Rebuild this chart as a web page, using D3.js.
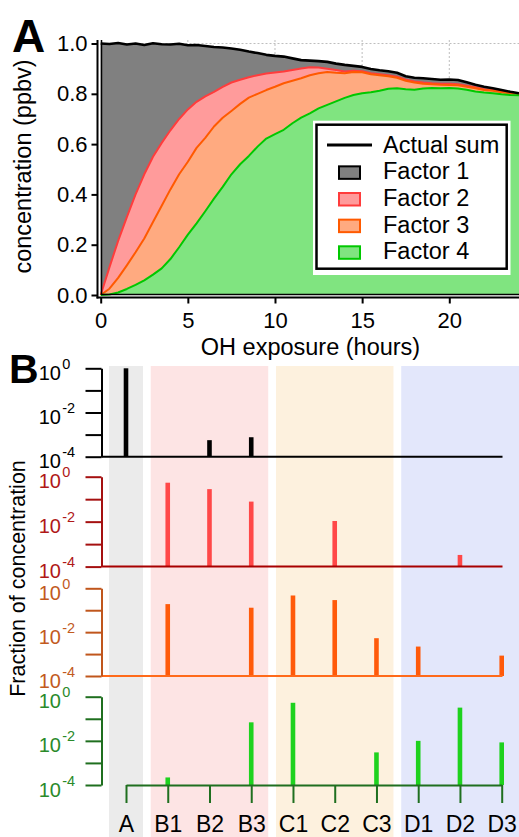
<!DOCTYPE html>
<html>
<head>
<meta charset="utf-8">
<script src="https://cdn.jsdelivr.net/npm/d3@7"></script>
<style>
  html, body { margin: 0; padding: 0; background: #fff; }
  svg { display: block; font-family: "Liberation Sans", Arial, Helvetica, sans-serif; }
</style>
</head>
<body>
<svg id="chart" width="519" height="837"></svg>
<script>
// ---------- Panel A: factor concentrations vs OH exposure ----------
const hours = [0,0.5,1,1.5,2,2.5,3,3.5,4,4.5,5,5.5,6,6.5,7,7.5,8,8.5,9,9.5,10,10.5,11,11.5,12,12.5,13,13.5,14,14.5,15,15.5,16,16.5,17,17.5,18,18.5,19,19.5,20,20.5,21,21.5,22,22.5,23,23.5,24];

const factor1 = [1.000,0.888,0.787,0.686,0.600,0.514,0.451,0.392,0.341,0.299,
                 0.255,0.226,0.200,0.178,0.156,0.135,0.119,0.102,0.088,0.074,
                 0.066,0.059,0.046,0.033,0.026,0.025,0.027,0.025,0.026,0.019,
                 0.017,0.017,0.016,0.016,0.016,0.014,0.015,0.017,0.017,0.016,
                 0.017,0.017,0.014,0.010,0.010,0.007,0.006,0.003,0.000];
const factor2 = [0,0.085,0.147,0.192,0.230,0.255,0.260,0.250,0.235,0.220,
                 0.208,0.183,0.165,0.138,0.123,0.113,0.096,0.081,0.074,0.066,
                 0.057,0.047,0.043,0.039,0.032,0.023,0.013,0.011,0.007,0.005,
                 0.004,0.004,0.004,0.004,0.004,0.004,0.004,0.005,0.004,0.004,
                 0.005,0.004,0.004,0.004,0.003,0.003,0.003,0.003,0.002];
const factor3 = [0,0.023,0.058,0.094,0.130,0.167,0.209,0.249,0.277,0.290,
                 0.290,0.300,0.292,0.287,0.275,0.252,0.240,0.232,0.210,0.193,
                 0.188,0.185,0.169,0.157,0.152,0.140,0.131,0.114,0.098,0.092,
                 0.084,0.072,0.062,0.050,0.042,0.034,0.029,0.019,0.015,0.014,
                 0.012,0.013,0.012,0.013,0.010,0.010,0.008,0.007,0.006];
const factor4 = [0,0.002,0.010,0.024,0.040,0.058,0.081,0.106,0.143,0.190,
                 0.240,0.285,0.333,0.383,0.430,0.480,0.520,0.553,0.590,0.622,
                 0.640,0.657,0.683,0.705,0.722,0.742,0.756,0.770,0.784,0.795,
                 0.802,0.806,0.812,0.820,0.822,0.818,0.816,0.821,0.823,0.822,
                 0.823,0.821,0.816,0.809,0.805,0.802,0.798,0.795,0.794];
const actualSum = [1.000,0.998,1.002,0.996,1.000,0.994,1.001,0.997,0.996,0.999,
                   0.993,0.994,0.990,0.986,0.984,0.980,0.975,0.968,0.962,0.955,
                   0.951,0.948,0.941,0.934,0.932,0.930,0.927,0.920,0.915,0.911,
                   0.907,0.899,0.894,0.890,0.884,0.870,0.864,0.862,0.859,0.856,
                   0.857,0.855,0.846,0.836,0.828,0.822,0.815,0.808,0.802];

const concTicks = [0, 0.2, 0.4, 0.6, 0.8, 1.0];
const hourTicks = [0, 5, 10, 15, 20];
const legendLabels = ["Actual sum", "Factor 1", "Factor 2", "Factor 3", "Factor 4"];

// ---------- Panel B: fraction of each factor per source ----------
const sources = ["A","B1","B2","B3","C1","C2","C3","D1","D2","D3"];
const sourceGroups = ["A","B","C","D"];
const fraction1 = [1.0, 0, 5.6e-4, 7.6e-4, 0, 0, 0, 0, 0, 0];
const fraction2 = [0, 0.54, 0.28, 0.078, 0, 0.0107, 0, 0, 3.3e-4, 0];
const fraction3 = [0, 0.19, 0, 0.13, 0.47, 0.29, 0.0053, 0.0022, 0, 8.5e-4];
const fraction4 = [0, 2.2e-4, 0, 0.069, 0.53, 0, 0.003, 0.01, 0.32, 0.0085];
const decadeTicks = [1, 0.1, 0.01, 0.001, 0.0001];
const decadeExponents = ["0", "-1", "-2", "-3", "-4"];

const FONT = '"Liberation Sans", Arial, Helvetica, sans-serif';
const svg = d3.select("#chart");

// ======================= Panel A =======================
const xA = d3.scaleLinear().domain([0, 24]).range([100.7, 519]);
const yA = d3.scaleLinear().domain([0, 1.014]).range([295, 40]);

const gA = svg.append("g");

// dotted grid
gA.append("g").selectAll("line.v").data(hourTicks.filter(d => d > 0)).join("line")
  .attr("x1", d => xA(d)).attr("x2", d => xA(d))
  .attr("y1", yA.range()[1]).attr("y2", yA(0))
  .attr("stroke", "#bdbdbd").attr("stroke-width", 1).attr("stroke-dasharray", "2,2");
gA.append("line")
  .attr("x1", 101.5).attr("x2", 519).attr("y1", yA(1)).attr("y2", yA(1))
  .attr("stroke", "#bdbdbd").attr("stroke-width", 1).attr("stroke-dasharray", "2,2");

const rows = hours.map((h, i) => ({ h, f1: factor1[i], f2: factor2[i], f3: factor3[i], f4: factor4[i] }));
const stacked = d3.stack().keys(["f4", "f3", "f2", "f1"])(rows);
const byKey = {};
stacked.forEach(s => byKey[s.key] = s);

const area = d3.area()
  .x(d => xA(d.data.h))
  .y0(d => yA(d[0]))
  .y1(d => yA(d[1]));
const topLine = d3.line()
  .x(d => xA(d.data.h))
  .y(d => yA(d[1]));

const factorStyle = {
  f1: { fill: "#808080", line: null },
  f2: { fill: "#ff9b9b", line: "#ff3c3c" },
  f3: { fill: "#ffaa80", line: "#ff5a00" },
  f4: { fill: "#80e480", line: "#00c800" }
};

["f1", "f2", "f3", "f4"].forEach(k => {
  gA.append("path").datum(byKey[k]).attr("d", area).attr("fill", factorStyle[k].fill);
  if (factorStyle[k].line) {
    gA.append("path").datum(byKey[k]).attr("d", topLine)
      .attr("fill", "none").attr("stroke", factorStyle[k].line)
      .attr("stroke-width", 2).attr("stroke-linejoin", "round");
  }
});

// measured total
gA.append("path").datum(actualSum)
  .attr("d", d3.line().x((d, i) => xA(hours[i])).y(d => yA(d)))
  .attr("fill", "none").attr("stroke", "#000").attr("stroke-width", 2.6)
  .attr("stroke-linejoin", "round");

// plot frame (left and bottom)
gA.append("line").attr("x1", 101.5).attr("x2", 101.5).attr("y1", 40).attr("y2", 295)
  .attr("stroke", "#000").attr("stroke-width", 1.5);
gA.append("line").attr("x1", 101).attr("x2", 519).attr("y1", 294.5).attr("y2", 294.5)
  .attr("stroke", "#000").attr("stroke-width", 1.5);

// axes
const yAxisA = gA.append("g").attr("transform", "translate(97.5,0)")
  .call(d3.axisLeft(yA).tickValues(concTicks).tickFormat(d3.format(".1f"))
        .tickSize(6).tickSizeOuter(0).tickPadding(4));
yAxisA.select(".domain").remove();
yAxisA.append("line").attr("x1", 0).attr("x2", 0).attr("y1", 40).attr("y2", 298.5)
  .attr("stroke", "#000").attr("stroke-width", 2);

const xAxisA = gA.append("g").attr("transform", "translate(0,297.5)")
  .call(d3.axisBottom(xA).tickValues(hourTicks).tickFormat(d3.format("d"))
        .tickSize(6).tickSizeOuter(0).tickPadding(9));
xAxisA.select(".domain").remove();
xAxisA.append("line").attr("x1", 96.5).attr("x2", 519).attr("y1", 0).attr("y2", 0)
  .attr("stroke", "#000").attr("stroke-width", 2);

[yAxisA, xAxisA].forEach(ax => {
  ax.attr("font-family", FONT).attr("font-size", 22);
  ax.selectAll(".tick line").attr("stroke", "#000").attr("stroke-width", 2);
  ax.selectAll(".tick text").attr("fill", "#000");
});

gA.append("text").attr("x", 310.5).attr("y", 355)
  .attr("text-anchor", "middle").attr("font-size", 23.5).text("OH exposure (hours)");
gA.append("text").attr("transform", "translate(31,166.5) rotate(-90)")
  .attr("text-anchor", "middle").attr("font-size", 23.5).text("concentration (ppbv)");

// legend
const leg = gA.append("g");
leg.append("rect").attr("x", 313).attr("y", 120.7).attr("width", 197.5).attr("height", 154.3).attr("fill", "#fff");
leg.append("rect").attr("x", 316.5).attr("y", 124.7).attr("width", 190.2).attr("height", 144)
  .attr("fill", "none").attr("stroke", "#000").attr("stroke-width", 2.5);
const legRow = i => 152.7 + i * 26.65;
leg.append("line").attr("x1", 327).attr("x2", 372).attr("y1", legRow(0) - 7.7).attr("y2", legRow(0) - 7.7)
  .attr("stroke", "#000").attr("stroke-width", 3);
["f1", "f2", "f3", "f4"].forEach((k, i) => {
  leg.append("rect").attr("x", 339).attr("y", legRow(i + 1) - 13)
    .attr("width", 21).attr("height", 12.5)
    .attr("fill", factorStyle[k].fill)
    .attr("stroke", factorStyle[k].line || "#000").attr("stroke-width", 2);
});
leg.selectAll("text").data(legendLabels).join("text")
  .attr("x", 383).attr("y", (d, i) => legRow(i))
  .attr("font-size", 23.5).attr("fill", "#000").text(d => d);

svg.append("text").attr("x", 12).attr("y", 52).attr("font-size", 46).attr("font-weight", "bold").text("A");

// ======================= Panel B =======================
const xB = d3.scalePoint().domain(sources).range([126, 501.7]);
const gB = svg.append("g");

const bandColors = { A: "#ebebeb", B: "#fde4e4", C: "#fdf1de", D: "#e3e7fb" };
const bandHalf = 17;
sourceGroups.forEach(g => {
  const members = sources.filter(s => s[0] === g);
  const x0 = xB(members[0]) - bandHalf;
  const x1 = Math.min(519, xB(members[members.length - 1]) + bandHalf + (g === "D" ? 2 : 0));
  gB.append("rect").attr("x", x0).attr("y", 366).attr("width", x1 - x0).attr("height", 837 - 366)
    .attr("fill", bandColors[g]);
});

const panelsB = [
  { values: fraction1, bottom: 456.7, top: 368.3, bar: "#000000", axis: "#000000", label: "#000000", base: "#000000" },
  { values: fraction2, bottom: 566.6, top: 476.7, bar: "#ff4848", axis: "#a51010", label: "#b01818", base: "#a80000" },
  { values: fraction3, bottom: 676.0, top: 588.3, bar: "#ff5a0a", axis: "#c0561c", label: "#c25a1e", base: "#ff6a1a" },
  { values: fraction4, bottom: 785.0, top: 696.7, bar: "#1ed21e", axis: "#1f6f1f", label: "#2a8a2a", base: "#1f6f1f" }
];

panelsB.forEach((p, pi) => {
  const y = d3.scaleLog().domain([1e-4, 1]).range([p.bottom, p.top]);
  const g = gB.append("g");

  // bars
  g.selectAll("rect").data(sources.map((s, i) => ({ s, v: p.values[i] })).filter(d => d.v > 1e-4))
    .join("rect")
    .attr("x", d => xB(d.s) - 2.3).attr("width", 4.6)
    .attr("y", d => y(d.v)).attr("height", d => p.bottom - y(d.v))
    .attr("fill", p.bar);

  // baseline / category axis
  if (pi < 3) {
    g.append("line").attr("x1", 101.5).attr("x2", 502.5).attr("y1", p.bottom).attr("y2", p.bottom)
      .attr("stroke", p.base).attr("stroke-width", 2);
  } else {
    const cat = g.append("g").attr("transform", `translate(0,${p.bottom})`)
      .call(d3.axisBottom(xB).tickSize(18).tickSizeOuter(0).tickPadding(13));
    cat.attr("font-family", FONT).attr("font-size", 23);
    cat.select(".domain").attr("stroke", p.base).attr("stroke-width", 2);
    cat.selectAll(".tick line").attr("stroke", p.base).attr("stroke-width", 2);
    cat.selectAll(".tick text").attr("fill", "#000");
  }

  // log axis with 10^n labels
  const ax = g.append("g").attr("transform", "translate(101.5,0)")
    .call(d3.axisLeft(y).tickValues(decadeTicks).tickFormat(() => "").tickSize(16).tickSizeOuter(0));
  ax.select(".domain").attr("stroke", p.axis).attr("stroke-width", 2);
  ax.selectAll(".tick line").attr("stroke", p.axis).attr("stroke-width", 2);
  ax.selectAll(".tick text").remove();
  ax.selectAll(".tick").filter((d, i) => i % 2 === 0).each(function (d) {
    const exp = decadeExponents[decadeTicks.indexOf(d)];
    const t = d3.select(this);
    t.append("text").attr("x", -40.5).attr("y", 11).attr("text-anchor", "end")
      .attr("font-family", FONT).attr("font-size", 20).attr("fill", p.label).text("10");
    t.append("text").attr("x", -39.3).attr("y", 0).attr("text-anchor", "start")
      .attr("font-family", FONT).attr("font-size", 14.5).attr("fill", p.label).text(exp);
  });
});

gB.append("text").attr("transform", "translate(25,578.5) rotate(-90)")
  .attr("text-anchor", "middle").attr("font-size", 21.5).attr("fill", "#000").text("Fraction of concentration");

svg.append("text").attr("x", 9).attr("y", 383).attr("font-size", 41).attr("font-weight", "bold").text("B");
</script>
</body>
</html>
